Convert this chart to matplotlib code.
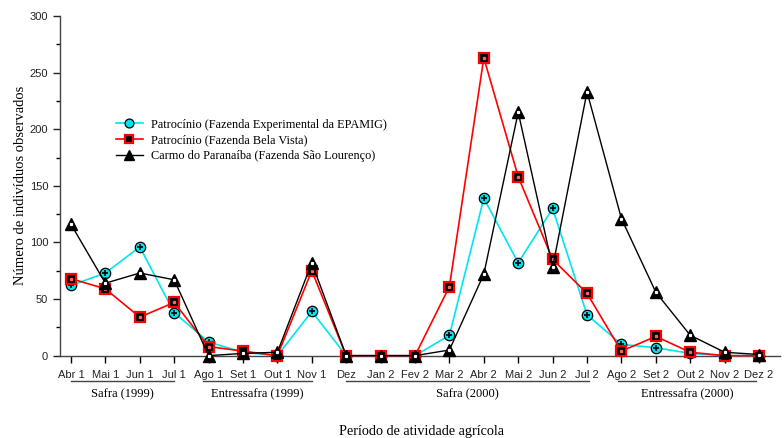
import matplotlib.pyplot as plt
import numpy as np

# meses do periodo agricola
meses = ['Abr 1', 'Mai 1', 'Jun 1', 'Jul 1', 'Ago 1', 'Set 1', 'Out 1', 'Nov 1', 'Dez',
         'Jan 2', 'Fev 2', 'Mar 2', 'Abr 2', 'Mai 2', 'Jun 2', 'Jul 2', 'Ago 2', 'Set 2',
         'Out 2', 'Nov 2', 'Dez 2']

epamig = [62, 73, 96, 38, 12, 3, 0, 39, 0, 0, 0, 18, 139, 82, 130, 36, 10, 7, 2, 0, 0]
bela_vista = [68, 59, 34, 47, 8, 4, 0, 75, 0, 0, 0, 61, 263, 158, 85, 55, 4, 17, 3, 0, 0]
sao_lourenco = [116, 64, 73, 67, 0, 2, 3, 82, 0, 0, 0, 5, 72, 215, 78, 233, 121, 56, 18, 3, 1]

rotulos_legenda = ['Patrocínio (Fazenda Experimental da EPAMIG)',
                   'Patrocínio (Fazenda Bela Vista)',
                   'Carmo do Paranaíba (Fazenda São Lourenço)']

# periodos: (nome, inicio, fim)
periodos = [('Safra (1999)', 0, 3), ('Entressafra (1999)', 3.85, 7),
            ('Safra (2000)', 8, 15.05), ('Entressafra (2000)', 15.9, 19.9)]

serif = ['Liberation Serif', 'DejaVu Serif']
sans = ['Liberation Sans', 'DejaVu Sans']

fig = plt.figure(figsize=(7.84, 4.38), dpi=100)
ax = fig.add_axes([0.0765, 0.188, 0.918, 0.7755])
x = np.arange(len(meses))

# serie 1 - circulo ciano com cruz
l1, = ax.plot(x, epamig, color='#00e5ee', lw=1.2, marker='o', ms=7.5, mfc='#00e5ee',
              mec='black', mew=0.9, clip_on=False, zorder=3)
ax.plot(x, epamig, ls='none', marker='+', ms=4, mec='black', mew=1.2, clip_on=False, zorder=3.1)

# serie 2 - quadrado preto com borda vermelha
l2, = ax.plot(x, bela_vista, color='red', lw=1.2, marker='s', ms=7, mfc='black',
              mec='red', mew=1.6, clip_on=False, zorder=4)
ax.plot(x, bela_vista, ls='none', marker='s', ms=1.5, mfc='#ff6060', mec='#ff6060',
        clip_on=False, zorder=4.1)

# serie 3 - triangulo preto
l3, = ax.plot(x, sao_lourenco, color='black', lw=1.0, marker='^', ms=8, mfc='black',
              mec='black', clip_on=False, zorder=5)
ax.plot(x, sao_lourenco, ls='none', marker='s', ms=1.3, mfc='white', mec='white',
        clip_on=False, zorder=5.1)

ax.set_xlim(-0.32, 20.6)
ax.set_ylim(0, 300)
ax.set_xticks(x)
ax.set_xticklabels(meses, fontsize=8, family=sans, color='#222222')
ax.set_yticks(np.arange(0, 301, 50))
ax.set_yticks(np.arange(0, 301, 25), minor=True)
ax.tick_params(axis='y', labelsize=8, colors='#222222', length=5, width=1)
ax.tick_params(axis='y', which='minor', length=3, width=1)
ax.tick_params(axis='x', length=5, width=1, pad=5)
for lab in ax.get_yticklabels():
    lab.set_family(sans)

ax.spines['top'].set_visible(False)
ax.spines['right'].set_visible(False)
for s in ['left', 'bottom']:
    ax.spines[s].set_color('#444444')
    ax.spines[s].set_linewidth(1)

ax.set_ylabel('Número de indivíduos observados', fontsize=10.5, family=serif, labelpad=2)

# linhas e nomes dos periodos
trans = ax.get_xaxis_transform()
for nome, ini, fim in periodos:
    ax.plot([ini, fim], [-0.075, -0.075], color='#444444', lw=1, transform=trans, clip_on=False)
    ax.text((ini + fim) / 2, -0.095, nome, transform=trans, ha='center', va='top',
            fontsize=9, family=serif)

fig.text(0.537, 0.0137, 'Período de atividade agrícola', ha='center', va='center',
         fontsize=10.2, family=serif)

ax.legend([l1, l2, l3], rotulos_legenda, loc='upper left', bbox_to_anchor=(0.062, 0.73),
          frameon=False, prop={'family': serif, 'size': 8.85}, handlelength=2.2,
          handletextpad=0.7, labelspacing=0.3, markerscale=0.85)

fig.savefig('out.png', dpi=100)
